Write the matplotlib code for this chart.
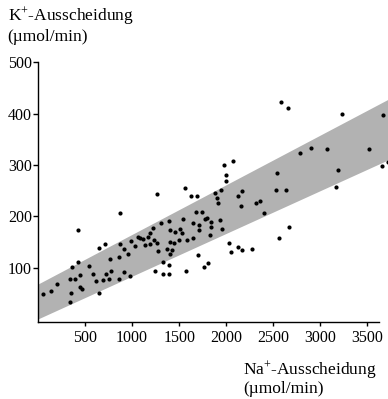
import matplotlib
matplotlib.use("Agg")
import matplotlib.pyplot as plt
import numpy as np

plt.rcParams['font.family'] = ['Liberation Serif', 'DejaVu Serif']
plt.rcParams['mathtext.fontset'] = 'custom'
plt.rcParams['mathtext.rm'] = 'Liberation Serif'
plt.rcParams['mathtext.default'] = 'regular'

# Na+ excretion (x) vs K+ excretion (y), both in umol/min
na = [56, 135, 199, 340, 354, 340, 390, 420, 420, 359, 441, 441, 465, 540, 583,
      617, 646, 649, 710, 723, 686, 768, 777, 758, 862, 874, 876, 910, 915, 865,
      957, 973, 984, 1027, 1064, 1088, 1112, 1138, 1188, 1227, 1188, 1170, 1231,
      1269, 1277, 1241, 1269, 1312, 1330, 1330, 1390, 1401, 1454, 1507, 1535,
      1543, 1375, 1429, 1401, 1401, 1390, 1390, 1500, 1585, 1574, 1564, 1447,
      1628, 1688, 1644, 1713, 1649, 1707, 1702, 1681, 1741, 1777, 1798, 1835,
      1835, 1833, 1811, 1769, 1881, 1947, 1902, 1917, 1936, 1952, 1979, 2071,
      1995, 1993, 2032, 2124, 2170, 2053, 2277, 2167, 2124, 2157, 2312, 2356,
      2404, 2539, 2527, 2635, 2667, 2559, 2585, 2654, 2787, 2904, 3071, 3184,
      3167, 3234, 3514, 3663, 3656, 3715]
k = [49, 55, 68, 32, 50, 77, 77, 174, 110, 101, 85, 63, 58, 103, 88,
     74, 138, 51, 146, 88, 76, 117, 93, 78, 121, 206, 146, 137, 91, 77,
     126, 83, 151, 142, 159, 157, 155, 145, 146, 177, 168, 159, 154,
     148, 133, 94, 244, 187, 111, 88, 191, 174, 170, 176, 167,
     195, 137, 135, 149, 126, 105, 88, 153, 154, 94, 256, 148,
     239, 239, 187, 184, 158, 173, 124, 208, 208, 195, 196, 188,
     179, 163, 109, 102, 246, 252, 235, 225, 193, 176, 300, 307,
     280, 269, 148, 141, 135, 130, 137, 250, 239, 220, 226, 230,
     207, 284, 251, 252, 179, 157, 423, 412, 324, 333, 332, 290,
     258, 399, 332, 397, 298, 306]

# shaded band
band_x = [0, 3720]
band_low = [0, 310]
band_high = [68, 428]

fig = plt.figure(figsize=(3.88, 3.99), dpi=100)
ax = fig.add_axes([0.098, 0.193, 0.902, 0.657])

ax.fill_between(band_x, band_low, band_high, color='#b2b2b2', lw=0, zorder=1)
ax.scatter(na, k, s=9, color='black', lw=0, zorder=3)

ax.set_xlim(0, 3720)
ax.set_ylim(-6, 505)
ax.spines['top'].set_visible(False)
ax.spines['right'].set_visible(False)
ax.spines['bottom'].set_bounds(0, 3620)
ax.spines['left'].set_bounds(-6, 500)
for s in ['left', 'bottom']:
    ax.spines[s].set_linewidth(1.0)

ax.set_xticks([500, 1000, 1500, 2000, 2500, 3000, 3500])
ax.set_yticks([100, 200, 300, 400, 500])
ax.tick_params(axis='x', direction='out', length=3, width=1, pad=3, labelsize=11.5)
ax.tick_params(axis='y', direction='out', length=3.5, width=1, pad=1, labelsize=11.5)

fig.text(0.021, 0.961, 'K$^{+}$-Ausscheidung', fontsize=12.5, ha='left', va='center')
fig.text(0.018, 0.907, '(µmol/min)', fontsize=12.5, ha='left', va='center')
fig.text(0.626, 0.073, 'Na$^{+}$-Ausscheidung', fontsize=12.5, ha='left', va='center')
fig.text(0.626, 0.025, '(µmol/min)', fontsize=12.5, ha='left', va='center')

plt.savefig('out.png', dpi=100)
